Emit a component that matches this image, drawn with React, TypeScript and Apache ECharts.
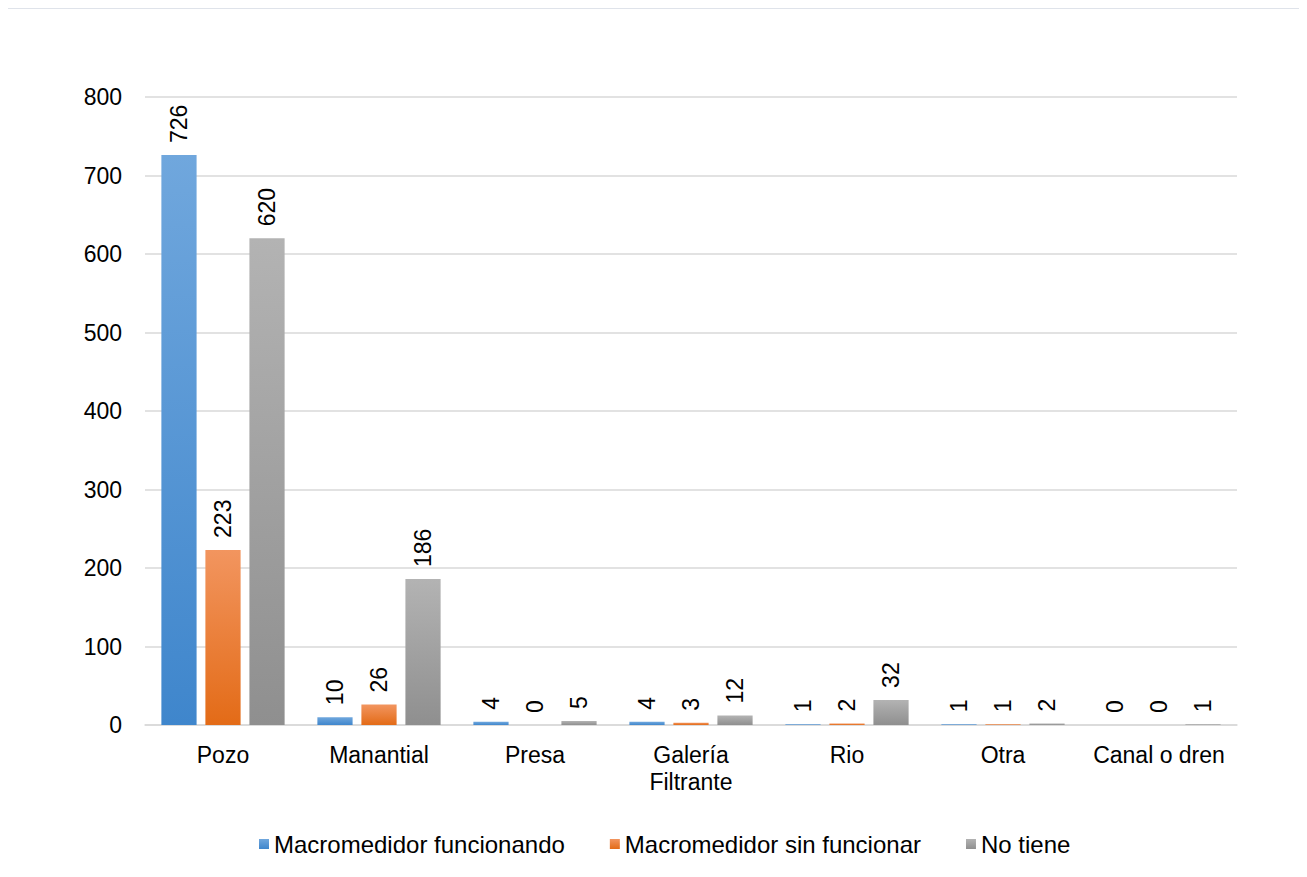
import React, { useEffect, useRef } from "react";
import * as echarts from "echarts";

const categories = ["Pozo", "Manantial", "Presa", "Galería\nFiltrante", "Rio", "Otra", "Canal o dren"];
const seriesNames = ["Macromedidor funcionando", "Macromedidor sin funcionar", "No tiene"];
const funcionando = [726, 10, 4, 4, 1, 1, 0];
const sinFuncionar = [223, 26, 0, 3, 2, 1, 0];
const noTiene = [620, 186, 5, 12, 32, 2, 1];
const yTicks = { min: 0, max: 800, interval: 100 };

const gradients = [
  ["#70a7dd", "#3f86cc"],
  ["#f2955f", "#e36b17"],
  ["#b3b3b3", "#8f8f8f"],
];

export default function App() {
  const ref = useRef<HTMLDivElement>(null);
  useEffect(() => {
    if (!ref.current) return;
    const chart = echarts.init(ref.current, undefined, { renderer: "svg" });
    const font = "'Liberation Sans', Arial, sans-serif";
    const data = [funcionando, sinFuncionar, noTiene];
    chart.setOption({
      animation: false,
      textStyle: { fontFamily: font },
      grid: { left: 137, top: 88, width: 1092, height: 628 },
      legend: {
        top: 818,
        left: 246,
        itemWidth: 10,
        itemHeight: 10,
        itemGap: 45,
        icon: "rect",
        textStyle: { fontSize: 24, color: "#000", fontFamily: font },
        data: seriesNames,
      },
      xAxis: {
        type: "category",
        data: categories,
        axisTick: { show: false },
        axisLine: { lineStyle: { color: "#d9d9d9", width: 1.5 } },
        axisLabel: { interval: 0, fontSize: 23, color: "#000", margin: 16, lineHeight: 27, fontFamily: font },
      },
      yAxis: {
        type: "value",
        min: yTicks.min,
        max: yTicks.max,
        interval: yTicks.interval,
        axisLine: { show: false },
        axisTick: { show: false },
        splitLine: { lineStyle: { color: "#d9d9d9", width: 1.5 } },
        axisLabel: { fontSize: 23, color: "#000", margin: 23, fontFamily: font },
      },
      series: seriesNames.map((name, i) => ({
        name,
        type: "bar",
        data: data[i],
        barGap: "25%",
        barCategoryGap: "21%",
        itemStyle: {
          color: new echarts.graphic.LinearGradient(0, 0, 0, 1, [
            { offset: 0, color: gradients[i][0] },
            { offset: 1, color: gradients[i][1] },
          ]),
        },
        label: {
          show: true,
          position: "top",
          rotate: 90,
          align: "left",
          verticalAlign: "middle",
          distance: 12,
          fontSize: 23,
          color: "#000",
          fontFamily: font,
        },
      })),
    });
    return () => chart.dispose();
  }, []);
  return (
    <div
      style={{
        borderTop: "1px solid #dfe3ea",
        borderLeft: "1px solid #dfe3ea",
        width: 1299,
        height: 869,
        boxSizing: "border-box",
        marginLeft: -1,
      }}
    >
      <div ref={ref} style={{ width: 1298, height: 868 }} />
    </div>
  );
}
